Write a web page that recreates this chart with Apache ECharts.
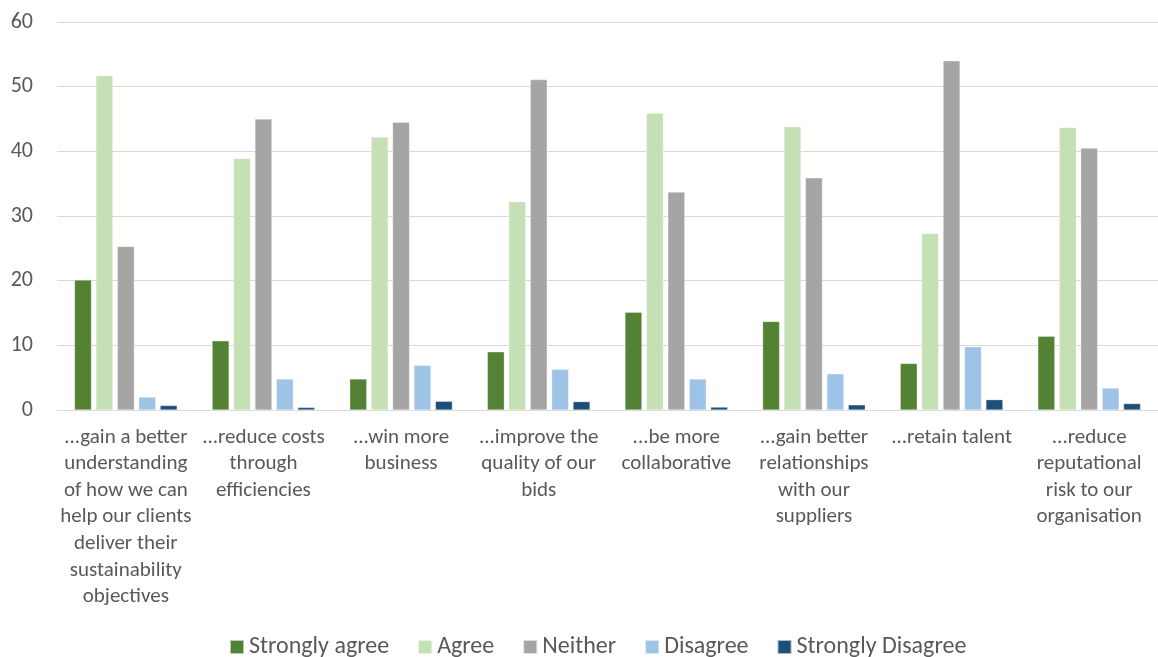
<!DOCTYPE html>
<html>
<head>
<meta charset="utf-8">
<script src="https://cdn.jsdelivr.net/npm/echarts@6/dist/echarts.min.js"></script>
<style>
html,body{margin:0;padding:0;background:#fff;}
#chart{width:1158px;height:657px;}
</style>
</head>
<body>
<div id="chart"></div>
<script>
const categories = [
  "...gain a better\nunderstanding\nof how we can\nhelp our clients\ndeliver their\nsustainability\nobjectives",
  "...reduce costs\nthrough\nefficiencies",
  "...win more\nbusiness",
  "...improve the\nquality of our\nbids",
  "...be more\ncollaborative",
  "...gain better\nrelationships\nwith our\nsuppliers",
  "...retain talent",
  "...reduce\nreputational\nrisk to our\norganisation"
];
const stronglyAgree = [20.1, 10.7, 4.8, 9.0, 15.1, 13.7, 7.2, 11.4];
const agree = [51.7, 38.9, 42.2, 32.2, 45.9, 43.8, 27.3, 43.7];
const neither = [25.3, 45.0, 44.5, 51.1, 33.7, 35.9, 54.0, 40.5];
const disagree = [2.0, 4.8, 6.9, 6.3, 4.8, 5.6, 9.8, 3.4];
const stronglyDisagree = [0.7, 0.4, 1.35, 1.3, 0.45, 0.8, 1.6, 1.0];
const seriesNames = ["Strongly agree", "Agree", "Neither", "Disagree", "Strongly Disagree"];
const colors = ["#548235", "#C5E0B4", "#A5A5A5", "#9DC3E6", "#1F4E79"];
const yTicks = {min: 0, max: 60, interval: 10};

const FONT = "Calibri, Carlito, 'Open Sans', sans-serif";
const chart = echarts.init(document.getElementById('chart'), null, {renderer: 'canvas'});
const dataSets = [stronglyAgree, agree, neither, disagree, stronglyDisagree];
chart.setOption({
  animation: false,
  color: colors,
  textStyle: {fontFamily: FONT},
  grid: {left: 57, right: 0, top: 22, bottom: 247, containLabel: false},
  legend: {
    left: 229, top: 635, padding: 0,
    itemWidth: 14, itemHeight: 14, itemGap: 28,
    icon: 'rect',
    textStyle: {fontSize: 24, color: '#595959', fontFamily: FONT},
    data: seriesNames
  },
  xAxis: {
    type: 'category',
    data: categories,
    axisLine: {lineStyle: {color: '#D9D9D9', width: 1}},
    axisTick: {show: false},
    axisLabel: {
      interval: 0, fontSize: 21, color: '#595959', lineHeight: 26.6,
      margin: 14, fontFamily: FONT, align: 'center', verticalAlign: 'top'
    }
  },
  yAxis: {
    type: 'value',
    min: yTicks.min, max: yTicks.max, interval: yTicks.interval,
    axisLine: {show: false},
    axisTick: {show: false},
    splitLine: {lineStyle: {color: '#D9D9D9', width: 1}},
    axisLabel: {fontSize: 22, color: '#595959', margin: 24, fontFamily: FONT}
  },
  series: dataSets.map((d, i) => ({
    name: seriesNames[i],
    type: 'bar',
    data: d,
    barWidth: 17,
    barGap: '26%',
    itemStyle: {color: colors[i], borderColor: 'rgba(255,255,255,0.6)', borderWidth: 0.5}
  }))
});
</script>
</body>
</html>
